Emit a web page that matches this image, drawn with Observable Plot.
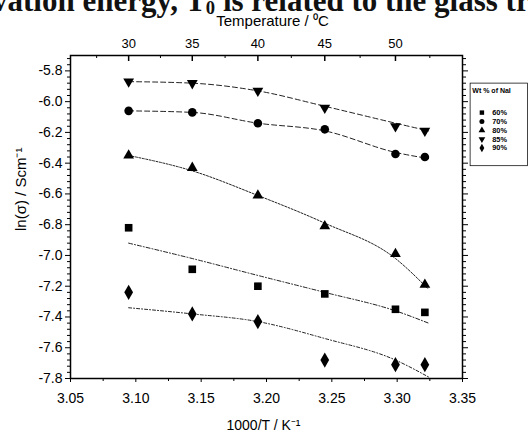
<!DOCTYPE html>
<html><head><meta charset="utf-8">
<script src="https://cdn.jsdelivr.net/npm/d3@7"></script>
<script src="https://cdn.jsdelivr.net/npm/@observablehq/plot@0.6"></script>
<style>
html,body{margin:0;padding:0;background:#fff;overflow:hidden;}
#wrap{position:relative;width:528px;height:434px;overflow:hidden;background:#fff;}
#paper{position:absolute;left:-8px;top:-15px;font-family:"Liberation Serif","Times New Roman",serif;font-weight:bold;font-size:31px;line-height:1;white-space:nowrap;color:#111;}
#paper sub{font-size:0.6em;vertical-align:-0.15em;line-height:0;}
#legend{position:absolute;left:469px;top:82px;}
</style></head><body><div id="wrap"><div id="paper">vation energy, T<sub>0</sub> is related to the glass transition</div></div>
<script>
// ---- data ----
const series = ["60%", "70%", "80%", "85%", "90%"];
const invT = [3.0945, 3.1432, 3.1934, 3.2446, 3.2987, 3.3212];     // 1000/T of measured points
const pts60 = [-6.82, -7.09, -7.20, -7.25, -7.35, -7.37];
const pts70 = [-6.06, -6.07, -6.14, -6.18, -6.34, -6.36];
const pts80 = [-6.35, -6.43, -6.61, -6.81, -6.99, -7.19];
const pts85 = [-5.87, -5.88, -5.93, -6.04, -6.16, -6.19];
const pts90 = [-7.24, -7.38, -7.43, -7.68, -7.71, -7.71];
// fitted (VTF) curves read at the same 1000/T
const fitX = [3.0945, 3.1432, 3.1934, 3.2446, 3.2987, 3.3240];
const fit60 = [-6.92, -7.02, -7.13, -7.24, -7.36, -7.44];
const fit70 = [-6.06, -6.07, -6.14, -6.19, -6.33, -6.37];
const fit80 = [-6.35, -6.45, -6.61, -6.79, -7.02, -7.22];
const fit85 = [-5.87, -5.88, -5.93, -6.03, -6.14, -6.19];
const fit90 = [-7.34, -7.38, -7.43, -7.54, -7.68, -7.79];
// axes
const xTicks = [3.05, 3.10, 3.15, 3.20, 3.25, 3.30, 3.35];
const xTickLabels = ["3.05", "3.10", "3.15", "3.20", "3.25", "3.30", "3.35"];
const yTicks = [-5.8, -6.0, -6.2, -6.4, -6.6, -6.8, -7.0, -7.2, -7.4, -7.6, -7.8];
const yTickLabels = ["-5.8", "-6.0", "-6.2", "-6.4", "-6.6", "-6.8", "-7.0", "-7.2", "-7.4", "-7.6", "-7.8"];
const topTickPos = [3.0945, 3.1432, 3.1934, 3.2446, 3.2987];
const topTickLabels = ["30", "35", "40", "45", "50"];
const xLabel = "1000/T / K⁻¹";
const yLabel = "ln(σ) / Scm⁻¹";
const topLabel = "Temperature / ⁰C";
const legendTitle = "Wt % of NaI";

// ---- build ----
const ptsBy = {"60%": pts60, "70%": pts70, "80%": pts80, "85%": pts85, "90%": pts90};
const fitBy = {"60%": fit60, "70%": fit70, "80%": fit80, "85%": fit85, "90%": fit90};
const triDown = {draw(ctx, size) {
  const y = -Math.sqrt(size / (Math.sqrt(3) * 3));
  ctx.moveTo(0, -y * 2); ctx.lineTo(-Math.sqrt(3) * y, y); ctx.lineTo(Math.sqrt(3) * y, y); ctx.closePath();
}};
const symbolFor = {"60%": "square", "70%": "circle", "80%": "triangle", "85%": triDown, "90%": "diamond"};
const rFor = {"60%": 4.3, "70%": 4.3, "80%": 4.0, "85%": 4.0, "90%": 4.6};
const dashFor = {"60%": "4,2,1,2", "70%": "5,3", "80%": "2,1.5", "85%": "5,3", "90%": "3,2,1,2"};

const xMinor = d3.range(3.075, 3.35, 0.05);
const yMinor = d3.range(-5.72, -7.81, -0.04).filter(v => Math.abs(Math.round(v * 5) - v * 5) > 1e-6);
const topMinor = d3.pairs(topTickPos).map(([a, b]) => (a + b) / 2).concat([3.07, 3.325]);

const marks = [];
for (const s of series) {
  marks.push(Plot.line(fitX.map((x, i) => ({x, y: fitBy[s][i]})), {x: "x", y: "y", curve: "monotone-x", stroke: "#222", strokeWidth: 1, strokeDasharray: dashFor[s]}));
}
for (const s of series) {
  marks.push(Plot.dot(invT.map((x, i) => ({x, y: ptsBy[s][i]})), {x: "x", y: "y", symbol: symbolFor[s], r: rFor[s], fill: "#000", stroke: "none"}));
}

const plot = Plot.plot({
  width: 528, height: 434,
  marginLeft: 70, marginRight: 66, marginTop: 55, marginBottom: 56,
  x: {domain: [3.05, 3.35]},
  y: {domain: [-7.8, -5.7]},
  style: {fontFamily: "'Liberation Sans', Arial, sans-serif", fontSize: "14px", color: "#000", background: "transparent", overflow: "visible"},
  marks: [
    ...marks,
    Plot.frame({stroke: "#000", strokeWidth: 1.5}),
    Plot.axisY(yTicks, {anchor: "left", tickSize: 5, tickPadding: 3, tickFormat: d => yTickLabels[yTicks.indexOf(d)], label: null, fontSize: 14}),
    Plot.axisY(yMinor, {anchor: "left", tickSize: 3, tickFormat: () => "", label: null}),
    Plot.axisY(yTicks, {anchor: "right", tickSize: 5, tickFormat: () => "", label: null}),
    Plot.axisY(yMinor, {anchor: "right", tickSize: 3, tickFormat: () => "", label: null}),
    Plot.axisX(xTicks, {anchor: "bottom", tickSize: 4, tickPadding: 11, tickFormat: d => xTickLabels[xTicks.indexOf(d)], label: null, fontSize: 14}),
    Plot.axisX(xMinor, {anchor: "bottom", tickSize: 3, tickFormat: () => "", label: null}),
    Plot.axisX(topTickPos, {anchor: "top", tickSize: 0, tickPadding: 8, tickFormat: d => topTickLabels[topTickPos.indexOf(d)], label: null, fontSize: 13}),
    Plot.tickX(topTickPos, {x: d => d, insetBottom: 317, stroke: "#000", strokeWidth: 1.5}),
    Plot.tickX(topMinor, {x: d => d, insetBottom: 320, stroke: "#000", strokeWidth: 1}),
    Plot.text([xLabel], {frameAnchor: "bottom", dx: -3, dy: 47, lineAnchor: "middle", fontSize: 14}),
    Plot.text([topLabel], {frameAnchor: "top", dx: 6, dy: -34, lineAnchor: "middle", fontSize: 15}),
    Plot.text([yLabel], {frameAnchor: "left", dx: -49, dy: 14, rotate: -90, lineAnchor: "middle", fontSize: 15})
  ]
});
const wrap = document.getElementById("wrap");
wrap.insertBefore(plot, wrap.firstChild);

const legend = Plot.plot({
  width: 80, height: 114, margin: 1,
  y: {type: "point", domain: series, range: [34, 96], axis: null},
  style: {fontFamily: "'Liberation Sans', Arial, sans-serif", fontSize: "10px", color: "#000", background: "#fff", overflow: "visible"},
  marks: [
    Plot.frame({stroke: "#000", strokeWidth: 1}),
    Plot.text([legendTitle], {frameAnchor: "top-left", dx: 3, dy: 10, lineAnchor: "middle", textAnchor: "start", fontWeight: "bold", fontSize: 9.5}),
    ...series.map(s => Plot.dot([s], {y: d => d, frameAnchor: "left", dx: 16, symbol: symbolFor[s], r: 3.4, fill: "#000"})),
    Plot.text(series, {y: d => d, frameAnchor: "left", dx: 30, textAnchor: "start", fontWeight: "bold"})
  ]
});
const lg = document.createElement("div");
lg.id = "legend";
lg.appendChild(legend);
wrap.appendChild(lg);
</script>
</body></html>
